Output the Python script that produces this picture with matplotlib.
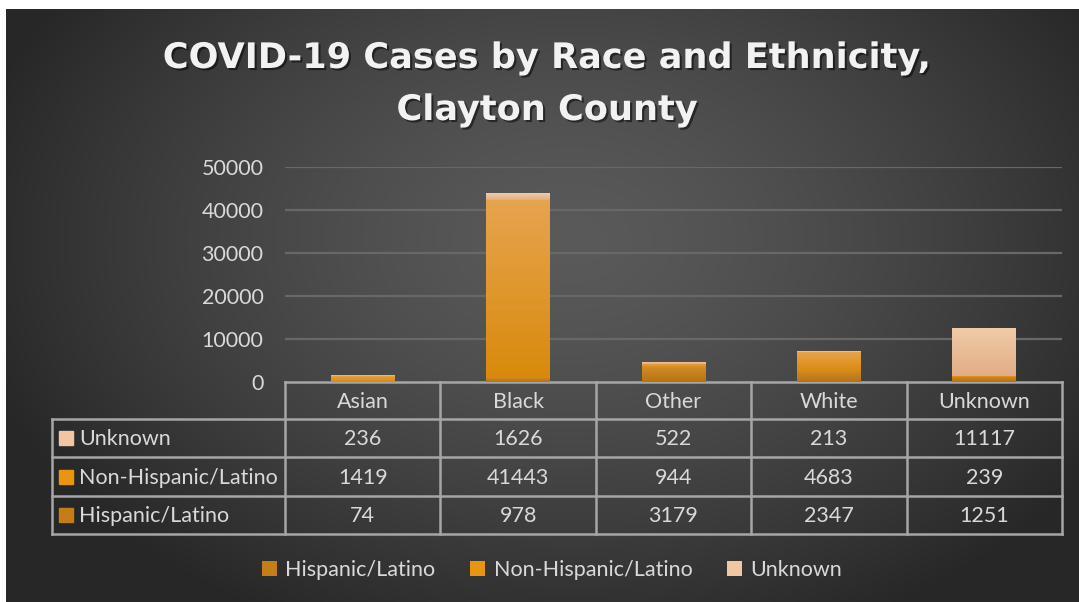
import numpy as np
import matplotlib
matplotlib.use("Agg")
import matplotlib.pyplot as plt
from matplotlib.patches import Rectangle
from matplotlib.colors import LinearSegmentedColormap
import matplotlib.patheffects as pe

# data
races = ["Asian", "Black", "Other", "White", "Unknown"]
hispanic = [74, 978, 3179, 2347, 1251]
non_hispanic = [1419, 41443, 944, 4683, 239]
unknown = [236, 1626, 522, 213, 11117]
series_names = ["Hispanic/Latino", "Non-Hispanic/Latino", "Unknown"]
yticks = [0, 10000, 20000, 30000, 40000, 50000]

# colours (base, top of gradient, bottom of gradient)
colors = ["#c47d17", "#e8960f", "#f0c7a2"]
grad_top = ["#cf8a28", "#e6a44f", "#f1cba8"]
grad_bot = ["#b8720e", "#d98a0c", "#e2ad86"]
txt_col = "#d9d9d9"
line_col = "#a6a6a6"
fs = 15.5

W, H = 1079, 602
fig = plt.figure(figsize=(W / 100, H / 100), dpi=100)
fig.patch.set_facecolor("white")

# background axes in pixel coordinates
bg = fig.add_axes([0, 0, 1, 1])
bg.set_xlim(0, W)
bg.set_ylim(H, 0)
bg.axis("off")
yy, xx = np.mgrid[9:H, 6:W]
r = np.sqrt(((xx - 570) / 620.0) ** 2 + ((yy - 240) / 430.0) ** 2)
r = np.clip(r, 0, 1) ** 1.4
val = (0x5a - (0x5a - 0x27) * r) / 255.0
bg.imshow(np.dstack([val, val, val]), extent=(6, W, H, 9), aspect="auto", zorder=0)
bg.set_xlim(0, W)
bg.set_ylim(H, 0)

# plot area
L, R, T, B = 285, 1062, 167, 382
ax = fig.add_axes([L / W, 1 - B / H, (R - L) / W, (B - T) / H])
ax.patch.set_alpha(0)
n = len(races)
x = np.arange(n)
bottom = np.zeros(n)
for k, vals in enumerate([hispanic, non_hispanic, unknown]):
    bars = ax.bar(x, vals, 0.41, bottom=bottom, color=colors[k],
                  label=series_names[k], zorder=3)
    cmap = LinearSegmentedColormap.from_list("g%d" % k, [grad_bot[k], grad_top[k]])
    for b in bars:
        x0, y0 = b.get_x(), b.get_y()
        im = ax.imshow(np.linspace(1, 0, 50).reshape(-1, 1), cmap=cmap,
                       extent=(x0, x0 + b.get_width(), y0, y0 + b.get_height()),
                       aspect="auto", zorder=4)
        im.set_clip_path(b)
    bottom += np.array(vals)

ax.set_xlim(-0.5, n - 0.5)
ax.set_ylim(0, 50000)
ax.set_yticks(yticks)
ax.set_yticklabels([str(v) for v in yticks], color=txt_col, fontsize=fs,
                   family="Lato")
ax.tick_params(axis="y", length=0, pad=15.5)
ax.set_xticks([])
for s in ax.spines.values():
    s.set_visible(False)
for v in yticks[1:]:
    ax.axhline(v, color="#686868", lw=1.6, zorder=1)

# data table drawn under the axes
col_w = (R - L) / n
edges = [L + i * col_w for i in range(n + 1)]
row_y = [B, 419, 457, 496, 534]
lab_left = 52
lw = 1.8
bg.plot([L, R], [B, B], color=line_col, lw=lw, zorder=5)
for y in row_y[1:]:
    bg.plot([lab_left, R], [y, y], color=line_col, lw=lw, zorder=5)
for xe in edges:
    bg.plot([xe, xe], [B, row_y[-1]], color=line_col, lw=lw, zorder=5)
bg.plot([lab_left, lab_left], [row_y[1], row_y[-1]], color=line_col, lw=lw, zorder=5)

for i, name in enumerate(races):
    bg.text((edges[i] + edges[i + 1]) / 2, (row_y[0] + row_y[1]) / 2 + 1, name,
            ha="center", va="center", color=txt_col, fontsize=fs, family="Lato")

rows = [("Unknown", unknown, 2), ("Non-Hispanic/Latino", non_hispanic, 1),
        ("Hispanic/Latino", hispanic, 0)]
for j, (name, vals, k) in enumerate(rows):
    yc = (row_y[j + 1] + row_y[j + 2]) / 2
    bg.add_patch(Rectangle((59, yc - 7), 14, 14, color=colors[k], zorder=6))
    bg.text(79, yc + 1, name, ha="left", va="center", color=txt_col, fontsize=fs,
            family="Lato")
    for i, v in enumerate(vals):
        bg.text((edges[i] + edges[i + 1]) / 2, yc + 1, str(v), ha="center",
                va="center", color=txt_col, fontsize=fs, family="Lato")

# title
title_fx = [pe.withSimplePatchShadow(offset=(1.5, -1.5), shadow_rgbFace="black",
                                     alpha=0.5)]
bg.text(547, 58, "COVID-19 Cases by Race and Ethnicity,", ha="center",
        va="center", color="#f2f2f2", fontsize=25.3, fontweight="bold",
        family="DejaVu Sans", path_effects=title_fx)
bg.text(547, 110, "Clayton County", ha="center", va="center", color="#f2f2f2",
        fontsize=25.3, fontweight="bold", family="DejaVu Sans", path_effects=title_fx)

# legend
handles, labels = ax.get_legend_handles_labels()
leg = fig.legend(handles, labels, loc="center", bbox_to_anchor=(552 / W, 1 - 570 / H),
                 ncol=3, frameon=False, handlelength=0.7, handleheight=0.7,
                 handletextpad=0.4, columnspacing=1.6,
                 prop={"family": "Lato", "size": fs})
for t in leg.get_texts():
    t.set_color(txt_col)

fig.savefig("out.png", dpi=100)
